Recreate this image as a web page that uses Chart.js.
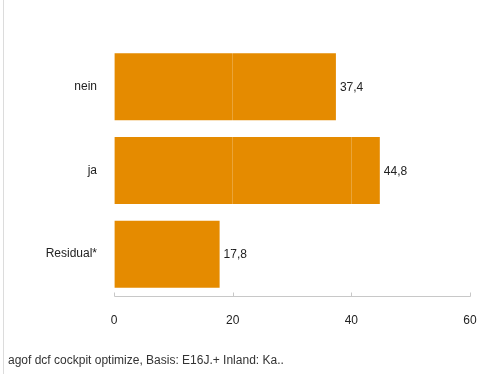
<!DOCTYPE html>
<html>
<head>
<meta charset="utf-8">
<script src="https://cdn.jsdelivr.net/npm/chart.js@4"></script>
<style>
  html, body { margin: 0; padding: 0; background: #fff; }
  #wrap { position: relative; width: 481px; height: 374px; }
  #edge { position: absolute; left: 3px; top: 0; width: 1px; height: 374px; background: #dcdcdc; }
  canvas { position: absolute; left: 0; top: 0; }
</style>
</head>
<body>
<div id="wrap">
  <canvas id="c" width="481" height="374"></canvas>
  <div id="edge"></div>
</div>
<script>
const categories = ['nein', 'ja', 'Residual*'];
const shares = [37.4, 44.8, 17.8];
const xTicks = [0, 20, 40, 60];
const sourceNote = 'agof dcf cockpit optimize, Basis: E16J.+ Inland: Ka..';

const FONT = '"Liberation Sans", Arial, sans-serif';
const BAR = '#E58B00';
const AXIS = '#c8c8c8';

const fmt = v => v.toLocaleString('de-DE', { minimumFractionDigits: 1, maximumFractionDigits: 1 });

// value labels at the end of each bar, axis line with upward ticks, source line
const extras = {
  id: 'extras',
  afterDatasetsDraw(chart) {
    const ctx = chart.ctx;
    const meta = chart.getDatasetMeta(0);
    ctx.save();
    ctx.font = '12px ' + FONT;
    ctx.fillStyle = '#222';
    ctx.textAlign = 'left';
    ctx.textBaseline = 'middle';
    meta.data.forEach((bar, i) => {
      ctx.fillText(fmt(shares[i]), bar.x + 4, bar.y + 1);
    });
    ctx.restore();
  },
  afterDraw(chart) {
    const ctx = chart.ctx;
    const xs = chart.scales.x;
    const yLine = Math.round(chart.chartArea.bottom) + 0.5;
    const x0 = Math.round(xs.getPixelForValue(xTicks[0])) + 0.5;
    const x1 = Math.round(xs.getPixelForValue(xTicks[xTicks.length - 1])) + 0.5;
    ctx.save();
    ctx.strokeStyle = AXIS;
    ctx.lineWidth = 1;
    ctx.beginPath();
    ctx.moveTo(x0, yLine);
    ctx.lineTo(x1, yLine);
    xTicks.forEach(t => {
      const px = Math.round(xs.getPixelForValue(t)) + 0.5;
      ctx.moveTo(px, yLine);
      ctx.lineTo(px, yLine - 4);
    });
    ctx.stroke();
    ctx.font = '12px ' + FONT;
    ctx.fillStyle = '#333';
    ctx.textAlign = 'left';
    ctx.textBaseline = 'middle';
    ctx.fillText(sourceNote, 8, 361);
    ctx.restore();
  }
};

new Chart(document.getElementById('c'), {
  type: 'bar',
  data: {
    labels: categories,
    datasets: [{
      data: shares,
      backgroundColor: BAR,
      borderWidth: 0,
      barPercentage: 0.8,
      categoryPercentage: 1.0
    }]
  },
  options: {
    indexAxis: 'y',
    responsive: false,
    animation: false,
    layout: { padding: { top: 45, right: 11, bottom: 0, left: 0 } },
    plugins: { legend: { display: false }, tooltip: { enabled: false } },
    scales: {
      x: {
        min: 0,
        max: 60,
        afterBuildTicks(scale) { scale.ticks = xTicks.map(v => ({ value: v })); },
        afterFit(scale) { scale.height = 78; scale.paddingLeft = 0; scale.paddingRight = 0; },
        grid: { color: 'rgba(255,255,255,0.22)', z: 1, drawTicks: false },
        border: { display: false },
        ticks: { color: '#222', font: { family: FONT, size: 12 }, padding: 17 }
      },
      y: {
        afterFit(scale) { scale.width = 114; },
        grid: { display: false, drawTicks: false },
        border: { display: false },
        ticks: { color: '#222', font: { family: FONT, size: 12 }, padding: 17 }
      }
    }
  },
  plugins: [extras]
});
</script>
</body>
</html>
